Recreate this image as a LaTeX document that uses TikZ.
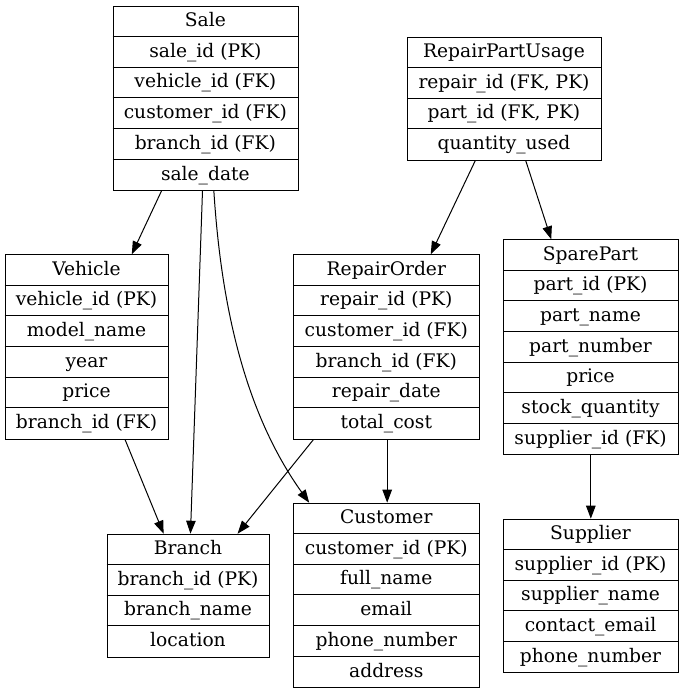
\documentclass[tikz,border=0pt]{standalone}
\usepackage{fontspec}
\setmainfont{DejaVu Serif}
\usetikzlibrary{arrows.meta,calc}
\tikzset{
  tblframe/.style={draw=black, line width=1pt, inner sep=0pt, anchor=north west},
  rowline/.style={draw=black, line width=1pt},
  rowtext/.style={anchor=base, inner sep=0pt, font=\fontsize{18.67}{22}\selectfont},
  fk/.style={draw=black, line width=1pt, -{Triangle[length=13pt,width=9.5pt]}}
}
\newcommand\ertable[6]{% name, left, right, top, nrows, rows
  \pgfmathsetmacro\tblw{#3-#2}
  \pgfmathsetmacro\tblh{#5*30.7}
  \pgfmathsetmacro\tblc{(#2+#3)/2}
  \node[tblframe, minimum width=\tblw pt, minimum height=\tblh pt] (#1) at (#2,#4) {};
  \foreach \t [count=\i from 0] in {#6} {
    \node[rowtext] at (\tblc, {#4+\i*30.7+20.85}) {\t};
    \ifnum\i>0 \draw[rowline] (#2, {#4+\i*30.7}) -- (#3, {#4+\i*30.7}); \fi
  }
}
\begin{document}
\begin{tikzpicture}[x=1pt, y=-1pt]
\useasboundingbox (0,0) rectangle (683,693);
\ertable{sale}{112.7}{298}{5.7}{6}{Sale, sale\_id (PK), vehicle\_id (FK), customer\_id (FK), branch\_id (FK), sale\_date}
\ertable{rpu}{407.3}{600.7}{36.7}{4}{RepairPartUsage, {repair\_id (FK, PK)}, {part\_id (FK, PK)}, quantity\_used}
\ertable{vehicle}{4.7}{168.3}{254.3}{6}{Vehicle, vehicle\_id (PK), model\_name, year, price, branch\_id (FK)}
\ertable{repair}{293.3}{479.3}{254.3}{6}{RepairOrder, repair\_id (PK), customer\_id (FK), branch\_id (FK), repair\_date, total\_cost}
\ertable{spare}{503}{678}{239.3}{7}{SparePart, part\_id (PK), part\_name, part\_number, price, stock\_quantity, supplier\_id (FK)}
\ertable{branch}{106.7}{269.3}{533.7}{4}{Branch, branch\_id (PK), branch\_name, location}
\ertable{customer}{293.3}{479.3}{502.7}{6}{Customer, customer\_id (PK), full\_name, email, phone\_number, address}
\ertable{supplier}{503}{678}{518.7}{5}{Supplier, supplier\_id (PK), supplier\_name, contact\_email, phone\_number}

\draw[fk] ($(sale.south west)!0.262!(sale.south east)$) -- ($(vehicle.north west)!0.772!(vehicle.north east)$);
\draw[fk] ($(sale.south west)!0.482!(sale.south east)$) -- ($(branch.north west)!0.512!(branch.north east)$);
\draw[fk] ($(sale.south west)!0.543!(sale.south east)$) .. controls (222,320) and (250,420) .. ($(customer.north west)!0.085!(customer.north east)$);
\draw[fk] ($(vehicle.south west)!0.731!(vehicle.south east)$) -- ($(branch.north west)!0.348!(branch.north east)$);
\draw[fk] ($(repair.south west)!0.108!(repair.south east)$) -- ($(branch.north west)!0.8!(branch.north east)$);
\draw[fk] ($(repair.south west)!0.502!(repair.south east)$) -- ($(customer.north west)!0.502!(customer.north east)$);
\draw[fk] ($(rpu.south west)!0.35!(rpu.south east)$) -- ($(repair.north west)!0.735!(repair.north east)$);
\draw[fk] ($(rpu.south west)!0.609!(rpu.south east)$) -- ($(spare.north west)!0.274!(spare.north east)$);
\draw[fk] ($(spare.south west)!0.499!(spare.south east)$) -- ($(supplier.north west)!0.499!(supplier.north east)$);
\end{tikzpicture}
\end{document}
